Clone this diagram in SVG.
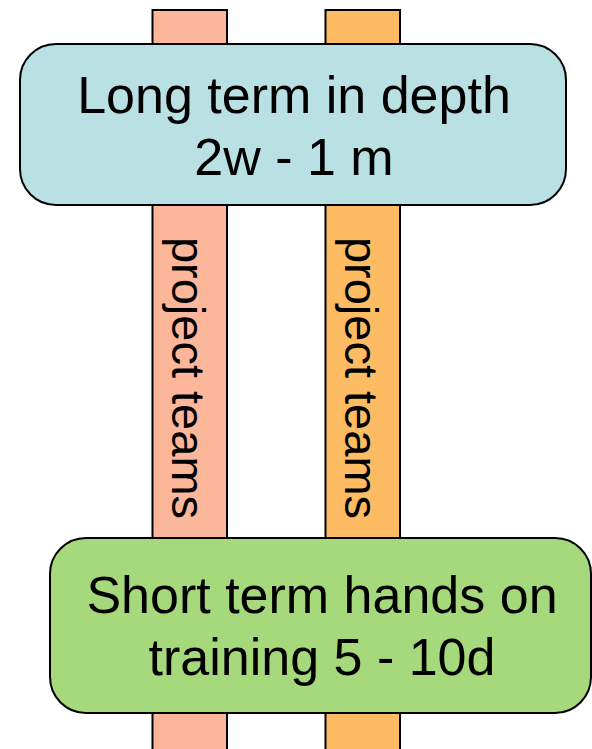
<svg xmlns="http://www.w3.org/2000/svg" width="592" height="749" viewBox="0 0 592 749">
  <style>
    .shape { stroke: #000; stroke-width: 2; }
    .lbl { font-family: "Liberation Sans", Arial, sans-serif; fill: #000; }
    .big { font-size: 52px; text-anchor: middle; }
    .vert { font-size: 47px; text-anchor: middle; }
  </style>
  <g id="connectors"></g>
  <g id="team1">
    <rect class="shape" x="152.5" y="10" width="74.5" height="740" fill="#fcb79b"/>
    <text class="lbl vert" transform="translate(172,378) rotate(90)">project teams</text>
  </g>
  <g id="team2">
    <rect class="shape" x="325.5" y="10" width="74.5" height="740" fill="#fdbb63"/>
    <text class="lbl vert" transform="translate(345,378) rotate(90)">project teams</text>
  </g>
  <g id="long-term">
    <rect class="shape" x="20" y="44" width="546" height="161" rx="36" ry="36" fill="#b9e0e3"/>
    <text class="lbl big" x="294" y="113">Long term in depth</text>
    <text class="lbl big" x="294" y="175">2w - 1 m</text>
  </g>
  <g id="short-term">
    <rect class="shape" x="50" y="538" width="541" height="175" rx="36" ry="36" fill="#a5d97c"/>
    <text class="lbl big" x="322" y="613">Short term hands on</text>
    <text class="lbl big" x="322" y="675">training 5 - 10d</text>
  </g>
</svg>
